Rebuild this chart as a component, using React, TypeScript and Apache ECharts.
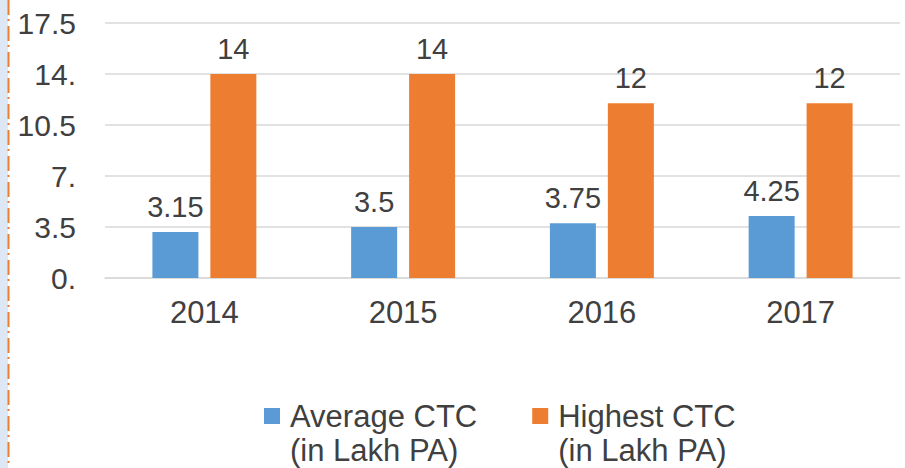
import React, { useEffect, useRef } from "react";
import * as echarts from "echarts";

const years = ["2014", "2015", "2016", "2017"];
const averageCtc = [3.15, 3.5, 3.75, 4.25];
const highestCtc = [14, 14, 12, 12];
const seriesNames = ["Average CTC\n(in Lakh PA)", "Highest CTC\n(in Lakh PA)"];

const FONT = "'Liberation Sans', Arial, sans-serif";
const TEXT = "#404040";
const LH = 34;

export default function App() {
  const ref = useRef<HTMLDivElement>(null);
  useEffect(() => {
    if (!ref.current) return;
    const chart = echarts.init(ref.current, undefined, { renderer: "svg" });
    chart.setOption({
      animation: false,
      backgroundColor: "#ffffff",
      textStyle: { fontFamily: FONT, color: TEXT },
      grid: { left: 105, right: 5, top: 23, bottom: 190, containLabel: false },
      xAxis: {
        type: "category",
        data: years,
        axisLine: { lineStyle: { color: "#D9D9D9", width: 1.5 } },
        axisTick: { show: false },
        axisLabel: { fontSize: 31, color: TEXT, margin: 19, fontFamily: FONT },
      },
      yAxis: {
        type: "value",
        min: 0,
        max: 17.5,
        interval: 3.5,
        axisLine: { show: false },
        axisTick: { show: false },
        splitLine: { lineStyle: { color: "#D9D9D9", width: 1.5 } },
        axisLabel: {
          fontSize: 30,
          color: TEXT,
          margin: 29,
          fontFamily: FONT,
          formatter: (v: number) => (Number.isInteger(v) ? `${v}.` : String(v)),
        },
      },
      legend: {
        left: 264,
        top: 416 - 1.5 * LH,
        padding: 0,
        itemWidth: 16,
        itemHeight: 16,
        itemGap: 55,
        icon: "rect",
        formatter: (name: string) => `\n${name}`,
        textStyle: {
          fontSize: 31,
          color: TEXT,
          fontFamily: FONT,
          lineHeight: LH,
          padding: [0, 0, 0, 5],
        },
        data: seriesNames,
      },
      graphic: [
        { type: "rect", shape: { x: 0, y: 0, width: 8, height: 468 }, style: { fill: "#DEE8F4" }, silent: true },
        {
          type: "line",
          shape: { x1: 8.5, y1: 0, x2: 8.5, y2: 468 },
          style: { stroke: "#ED7D31", lineWidth: 2, lineDash: [15, 4, 2, 5] },
          silent: true,
        },
      ],
      series: [
        {
          name: seriesNames[0],
          type: "bar",
          data: averageCtc,
          barWidth: 46,
          barGap: "26%",
          itemStyle: { color: "#5B9BD5" },
          label: { show: true, position: "top", distance: 11, fontSize: 29, color: TEXT, fontFamily: FONT },
        },
        {
          name: seriesNames[1],
          type: "bar",
          data: highestCtc,
          barWidth: 46,
          barGap: "26%",
          itemStyle: { color: "#ED7D31" },
          label: { show: true, position: "top", distance: 11, fontSize: 29, color: TEXT, fontFamily: FONT },
        },
      ],
    });
    return () => chart.dispose();
  }, []);
  return (
    <div
      ref={ref}
      style={{ position: "absolute", left: 0, top: 0, width: 905, height: 468 }}
    />
  );
}
